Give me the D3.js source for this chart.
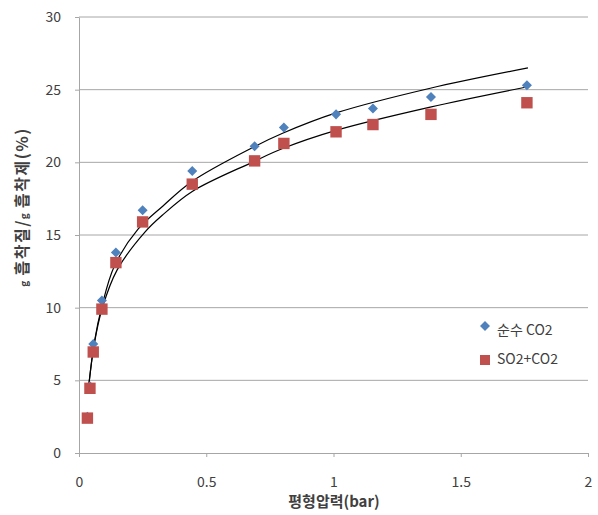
<!DOCTYPE html>
<html>
<head>
<meta charset="utf-8">
<script src="https://cdn.jsdelivr.net/npm/d3@7"></script>
<style>
  body { margin: 0; background: #fff; }
  text { font-family: "Noto Sans CJK KR", "Noto Sans", sans-serif; }
</style>
</head>
<body>
<div id="chart"></div>
<script>
// Variables
var width = 598;
var height = 515;

// measured points (pressure in bar, uptake in %)
var pressure = [0.033, 0.043, 0.056, 0.09, 0.145, 0.25, 0.445, 0.69, 0.805, 1.01, 1.155, 1.383, 1.76];
var pureCO2 = [2.5, 4.6, 7.5, 10.5, 13.8, 16.7, 19.4, 21.1, 22.4, 23.3, 23.7, 24.5, 25.3];
var so2CO2 = [2.4, 4.45, 6.95, 9.9, 13.1, 15.9, 18.5, 20.1, 21.3, 22.1, 22.6, 23.3, 24.1];

// fitted curves
var fitCO2X = [0.035, 0.06, 0.09, 0.14, 0.232, 0.33, 0.445, 0.68, 0.80, 1.01, 1.38, 1.764];
var fitCO2Y = [4.1, 7.6, 10.1, 12.9, 15.4, 17.0, 18.7, 21.0, 22.0, 23.4, 25.1, 26.5];
var fitSO2X = [0.035, 0.06, 0.092, 0.15, 0.259, 0.33, 0.445, 0.68, 0.80, 1.01, 1.38, 1.764];
var fitSO2Y = [4.1, 7.5, 10.0, 12.6, 15.2, 16.4, 18.0, 20.0, 20.95, 22.2, 23.8, 25.2];

var xTicks = [0, 0.5, 1, 1.5, 2];
var yTicks = [0, 5, 10, 15, 20, 25, 30];
var seriesNames = ['순수 CO2', 'SO2+CO2'];

var blue = '#4f81bd';
var red = '#c0504d';

var svg = d3.select('#chart').append('svg')
    .attr('width', width)
    .attr('height', height);

var x = d3.scaleLinear().domain([0, 2]).range([79, 588]);
var y = d3.scaleLinear().domain([0, 30]).range([453, 17]);

// gridlines
svg.append('g')
    .selectAll('line')
    .data(yTicks.slice(1))
    .enter().append('line')
    .attr('x1', x(0)).attr('x2', x(2))
    .attr('y1', function(d) { return y(d); })
    .attr('y2', function(d) { return y(d); })
    .style('stroke', '#a6a6a6')
    .style('stroke-width', 1);

// axes
var yAxis = svg.append('g')
    .attr('transform', 'translate(' + x(0) + ',0)')
    .call(d3.axisLeft(y).tickValues(yTicks).tickSizeInner(4).tickSizeOuter(0).tickPadding(14));
var xAxis = svg.append('g')
    .attr('transform', 'translate(0,' + y(0) + ')')
    .call(d3.axisBottom(x).tickValues(xTicks).tickFormat(d3.format('')).tickSizeInner(4).tickSizeOuter(0).tickPadding(20));

[xAxis, yAxis].forEach(function(ax) {
  ax.select('.domain').style('stroke', '#a6a6a6');
  ax.selectAll('.tick line').style('stroke', '#a6a6a6');
  ax.selectAll('.tick text')
      .style('font-size', '14px')
      .style('fill', '#404040');
});

// trend curves
var line = d3.line()
    .x(function(d) { return x(d[0]); })
    .y(function(d) { return y(d[1]); })
    .curve(d3.curveCatmullRom.alpha(0.5));

[[fitCO2X, fitCO2Y], [fitSO2X, fitSO2Y]].forEach(function(f) {
  svg.append('path')
      .datum(d3.zip(f[0], f[1]))
      .attr('d', line)
      .style('fill', 'none')
      .style('stroke', '#000')
      .style('stroke-width', 1.2);
});

// markers
var diamond = d3.symbol().type(d3.symbolDiamond2).size(64);
var square = d3.symbol().type(d3.symbolSquare).size(130);

svg.append('g').selectAll('path')
    .data(d3.zip(pressure, pureCO2))
    .enter().append('path')
    .attr('d', diamond)
    .attr('transform', function(d) { return 'translate(' + x(d[0]) + ',' + y(d[1]) + ')'; })
    .style('fill', blue);

svg.append('g').selectAll('path')
    .data(d3.zip(pressure, so2CO2))
    .enter().append('path')
    .attr('d', square)
    .attr('transform', function(d) { return 'translate(' + x(d[0]) + ',' + y(d[1]) + ')'; })
    .style('fill', red);

// legend
var legend = svg.append('g');
legend.append('path')
    .attr('d', diamond)
    .attr('transform', 'translate(485,326)')
    .style('fill', blue);
legend.append('path')
    .attr('d', d3.symbol().type(d3.symbolSquare).size(100))
    .attr('transform', 'translate(485,360)')
    .style('fill', red);
legend.selectAll('text')
    .data(seriesNames)
    .enter().append('text')
    .attr('x', 497)
    .attr('y', function(d, i) { return 331 + i * 29; })
    .attr('dy', '0.3em')
    .style('font-size', '14px')
    .style('fill', '#404040')
    .text(function(d) { return d; });

// axis titles
svg.append('text')
    .attr('x', 334)
    .attr('y', 502)
    .attr('text-anchor', 'middle')
    .attr('dy', '0.35em')
    .style('font-size', '15px')
    .style('font-weight', 'bold')
    .style('fill', '#404040')
    .text('평형압력(bar)');

var yTitle = svg.append('text')
    .attr('transform', 'translate(22,207)rotate(-90)')
    .attr('text-anchor', 'middle')
    .attr('dy', '0.35em')
    .style('font-size', '16px')
    .style('font-weight', 'bold')
    .style('letter-spacing', '1.5px')
    .style('fill', '#404040');
yTitle.append('tspan').style('font-size', '10px').text('g ');
yTitle.append('tspan').text('흡착질/');
yTitle.append('tspan').style('font-size', '10px').text('g ');
yTitle.append('tspan').text('흡착제(%)');
</script>
</body>
</html>
